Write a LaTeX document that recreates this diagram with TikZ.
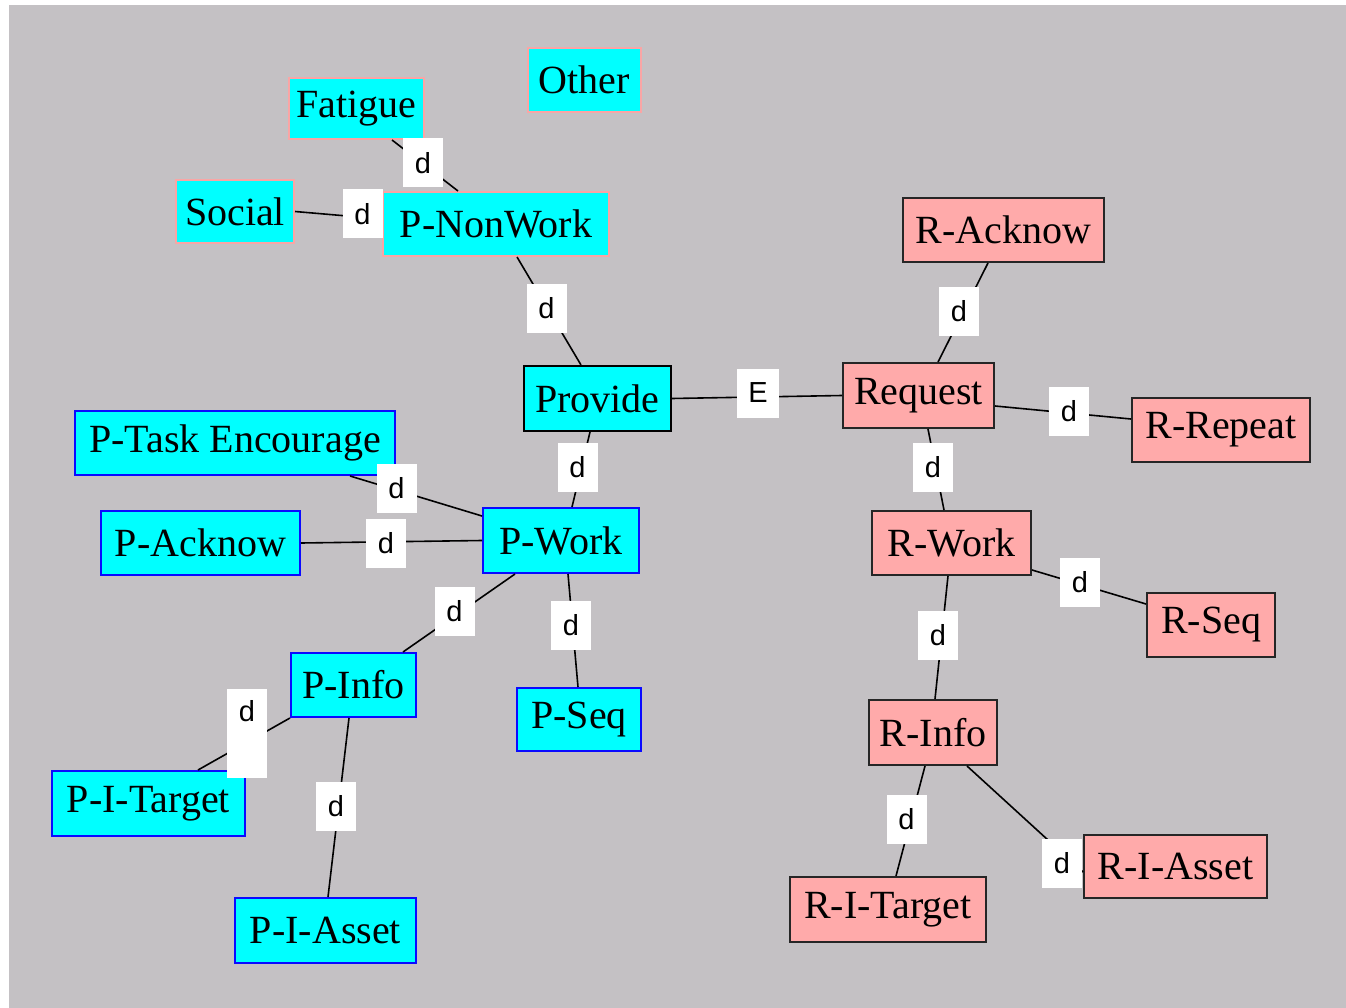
\documentclass[tikz,border=0pt]{standalone}
\usepackage{fontspec}
\setmainfont{Liberation Serif}
\newfontfamily\labfont{Liberation Sans}
\definecolor{bggray}{RGB}{196,193,196}
\definecolor{cyanfill}{RGB}{0,255,255}
\definecolor{pinkfill}{RGB}{255,170,170}
\definecolor{pinkline}{RGB}{250,165,165}
\definecolor{blueline}{RGB}{10,10,255}
\tikzset{
  box/.style={rectangle, inner sep=0pt, line width=2pt, font=\fontsize{40}{44}\selectfont},
  cpink/.style={box, fill=cyanfill, draw=pinkline},
  cblack/.style={box, fill=cyanfill, draw=black},
  cblue/.style={box, fill=cyanfill, draw=blueline},
  rnode/.style={box, fill=pinkfill, draw=black!85},
  lab/.style={rectangle, fill=white, inner sep=0pt, minimum width=40pt, minimum height=49pt, font=\labfont\fontsize{29}{32}\selectfont},
  conn/.style={draw=black, line width=1.6pt}
}
\begin{document}
\begin{tikzpicture}[x=1pt, y=-1pt]
\useasboundingbox (0,0) rectangle (1346,1008);
\fill[white] (0,0) rectangle (1346,1008);
\fill[bggray] (9,5) rectangle (1346,1008);

% main nodes
\node[cpink, minimum width=135pt, minimum height=61pt] (fatigue) at (356.5,108.5) {Fatigue};
\node[cpink, minimum width=113pt, minimum height=64pt] (other) at (584.5,80) {Other};
\node[cpink, minimum width=118pt, minimum height=63pt] (social) at (235,211.5) {Social};
\node[cpink, minimum width=226pt, minimum height=64pt] (nonwork) at (496,224) {P-NonWork};
\node[cblack, minimum width=147pt, minimum height=65pt] (provide) at (597.5,398.5) {Provide};
\node[rnode, minimum width=151pt, minimum height=65pt] (request) at (918.5,395.5) {Request};
\node[rnode, minimum width=201pt, minimum height=64pt] (racknow) at (1003.5,230) {R-Acknow};
\node[rnode, minimum width=178pt, minimum height=64pt] (rrepeat) at (1221,430) {R-Repeat};
\node[cblue, minimum width=320pt, minimum height=64pt] (ptask) at (235,443) {P-Task Encourage};
\node[cblue, minimum width=199pt, minimum height=64pt] (packnow) at (200.5,543) {P-Acknow};
\node[cblue, minimum width=156pt, minimum height=65pt] (pwork) at (561,540.5) {P-Work};
\node[cblue, minimum width=125pt, minimum height=64pt] (pinfo) at (353.5,685) {P-Info};
\node[cblue, minimum width=124pt, minimum height=63pt] (pseq) at (579,719.5) {P-Seq};
\node[cblue, minimum width=193pt, minimum height=65pt] (pitarget) at (148.5,803.5) {P-I-Target};
\node[cblue, minimum width=181pt, minimum height=65pt] (piasset) at (325.5,930.5) {P-I-Asset};
\node[rnode, minimum width=159pt, minimum height=64pt] (rwork) at (951.5,543) {R-Work};
\node[rnode, minimum width=128pt, minimum height=64pt] (rseq) at (1211,625) {R-Seq};
\node[rnode, minimum width=128pt, minimum height=65pt] (rinfo) at (933,732.5) {R-Info};
\node[rnode, minimum width=196pt, minimum height=65pt] (ritarget) at (888,909.5) {R-I-Target};
\node[rnode, minimum width=183pt, minimum height=63pt] (riasset) at (1175.5,866.5) {R-I-Asset};

% connectors
\draw[conn] ([xshift=35.5pt]fatigue.south) -- ([xshift=-38pt]nonwork.north);
\draw[conn] (social.east) -- ([yshift=5pt]nonwork.west);
\draw[conn] ([xshift=21pt]nonwork.south) -- ([xshift=-16.5pt]provide.north);
\draw[conn] (provide.east) -- (request.west);
\draw[conn] ([xshift=-7.5pt]provide.south) -- ([xshift=11pt]pwork.north);
\draw[conn] ([xshift=-15.5pt]racknow.south) -- ([xshift=19.5pt]request.north);
\draw[conn] ([yshift=-10.5pt]request.east) -- ([yshift=11pt]rrepeat.west);
\draw[conn] ([xshift=9.5pt]request.south) -- ([xshift=-7.5pt]rwork.north);
\draw[conn] ([xshift=115pt]ptask.south) -- ([yshift=-9pt]pwork.north west);
\draw[conn] (packnow.east) -- (pwork.west);
\draw[conn] ([xshift=-46pt]pwork.south) -- ([xshift=49.5pt]pinfo.north);
\draw[conn] ([xshift=7pt]pwork.south) -- ([xshift=-1pt]pseq.north);
\draw[conn] (pinfo.south west) -- ([xshift=49.5pt]pitarget.north);
\draw[conn] ([xshift=-4.5pt]pinfo.south) -- ([xshift=2.5pt]piasset.north);
\draw[conn] ([yshift=6pt]rwork.south east) -- ([yshift=21pt]rseq.west);
\draw[conn] ([xshift=-3.5pt]rwork.south) -- ([xshift=2pt]rinfo.north);
\draw[conn] ([xshift=-8pt]rinfo.south) -- ([xshift=8pt]ritarget.north);
\draw[conn] ([xshift=34pt]rinfo.south) -- ([yshift=-5.5pt]riasset.west);

% edge labels
\node[lab] (l1) at (423,163) {d};
\node[lab] (l2) at (362.5,214) {d};
\node[lab] (l3) at (546.5,308.5) {d};
\node[lab, minimum width=42pt] (l4) at (758,393) {E};
\node[lab] (l5) at (577.5,467) {d};
\node[lab] (l6) at (959,311.5) {d};
\node[lab] (l7) at (1069,411.5) {d};
\node[lab] (l8) at (933,467) {d};
\node[lab] (l9) at (396.5,488) {d};
\node[lab] (l10) at (386,543) {d};
\node[lab] (l11) at (454.5,611.5) {d};
\node[lab] (l12) at (571,625.5) {d};
\node[lab, minimum height=89pt, text depth=45pt] (l13) at (247,733.5) {d};
\node[lab] (l14) at (336,806.5) {d};
\node[lab] (l15) at (1080,582.5) {d};
\node[lab] (l16) at (938,635.5) {d};
\node[lab] (l17) at (906.5,819) {d};
\node[lab] (l18) at (1062,863.5) {d};
\end{tikzpicture}
\end{document}
